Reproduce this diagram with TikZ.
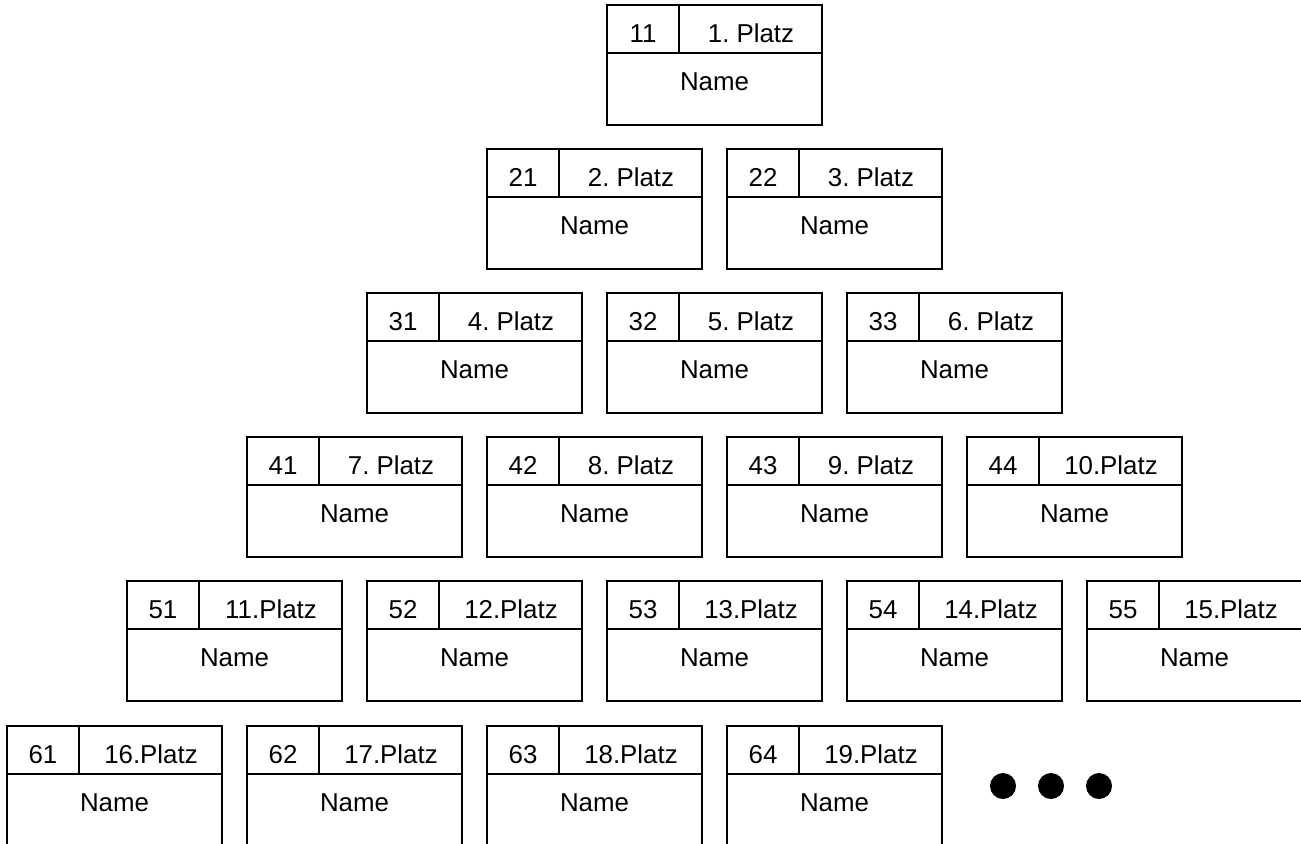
\documentclass[tikz,border=0pt]{standalone}
\usepackage{fontspec}
\setmainfont{Liberation Sans}
\frenchspacing
\begin{document}
\begin{tikzpicture}[x=0.75pt,y=-0.75pt,font=\fontsize{19.4}{23}\selectfont,
  box/.style={line width=1.5pt},
  lbl/.style={inner sep=0pt,anchor=base}]
  \useasboundingbox (0,0) rectangle (1301,843);
  \clip (0,0) rectangle (1301,843);
  % one box per place: number, place, name
  \foreach \n/\p/\x/\y in {11/1. Platz/607/5,
      21/2. Platz/487/149, 22/3. Platz/727/149,
      31/4. Platz/367/293, 32/5. Platz/607/293, 33/6. Platz/847/293,
      41/7. Platz/247/437, 42/8. Platz/487/437, 43/9. Platz/727/437, 44/10.Platz/967/437,
      51/11.Platz/127/581, 52/12.Platz/367/581, 53/13.Platz/607/581, 54/14.Platz/847/581, 55/15.Platz/1087/581,
      61/16.Platz/7/726, 62/17.Platz/247/726, 63/18.Platz/487/726, 64/19.Platz/727/726} {
    \draw[box] (\x,\y) rectangle ++(215,120);
    \draw[box] (\x,\y+48) -- ++(215,0);
    \draw[box] (\x+72,\y) -- ++(0,48);
    \node[lbl] (nr\n) at (\x+36,\y+37) {\n};
    \node[lbl] (pl\n) at (\x+144,\y+37) {\p};
    \node[lbl] (nm\n) at (\x+107.5,\y+85) {Name};
  }
  % more to come
  \fill (1003,786) circle (13);
  \fill (1051,786) circle (13);
  \fill (1099,786) circle (13);
\end{tikzpicture}
\end{document}
